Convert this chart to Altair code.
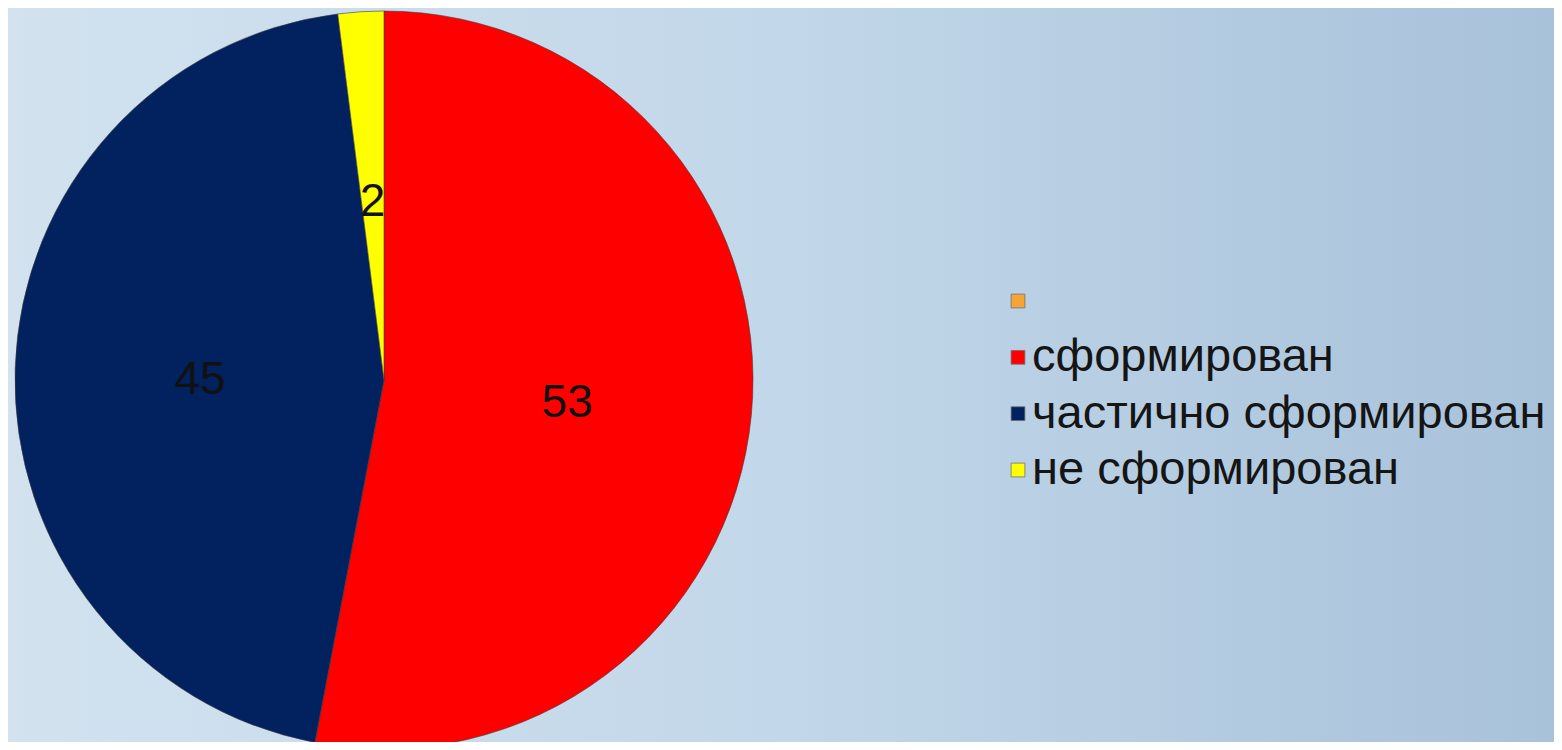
import altair as alt
import pandas as pd

categories = ["", "сформирован", "частично сформирован", "не сформирован"]
values = [0, 53, 45, 2]
colors = ["#f4a536", "#ff0000", "#02215f", "#ffff00"]

df = pd.DataFrame({
    "category": categories,
    "value": values,
    "order": list(range(len(categories))),
})

W, H = 1546, 734
CX, CY, R = 376, 372, 369
LEG_TOP, LEG_BOTTOM = 293, 462
LEG_SYM_X, LEG_TEXT_X = 1010, 1024

color_scale = alt.Scale(domain=categories, range=colors)

bg = alt.Chart(pd.DataFrame({"a": [0]})).mark_rect(
    color=alt.LinearGradient(
        gradient="linear",
        stops=[
            alt.GradientStop(color="#d2e2ef", offset=0),
            alt.GradientStop(color="#c2d7e9", offset=0.5),
            alt.GradientStop(color="#a8c2da", offset=1),
        ],
        x1=0, x2=1, y1=0, y2=0,
    )
).encode(x=alt.value(0), x2=alt.value(W), y=alt.value(0), y2=alt.value(H))

base = alt.Chart(df).encode(
    theta=alt.Theta("value:Q", stack=True),
    order=alt.Order("order:Q"),
)

arcs = base.mark_arc(outerRadius=R, stroke="#3a3a3a", strokeWidth=0.6).encode(
    x=alt.value(CX),
    y=alt.value(CY),
    color=alt.Color("category:N", scale=color_scale, legend=None),
)

labels = base.mark_text(
    radius=184, font="Liberation Sans", fontSize=46, color="#111111",
    align="center", baseline="middle", dy=6,
).encode(
    x=alt.value(CX),
    y=alt.value(CY),
    text=alt.condition("datum.value > 0", alt.Text("value:Q"), alt.value("")),
)

leg_y = alt.Y(
    "category:N",
    sort=categories,
    scale=alt.Scale(type="point", domain=categories, range=[LEG_TOP, LEG_BOTTOM], padding=0),
    axis=None,
)

leg_sym = alt.Chart(df).mark_square(
    size=190, opacity=1, stroke="#707070", strokeWidth=0.8
).encode(
    x=alt.value(LEG_SYM_X),
    y=leg_y,
    color=alt.Color("category:N", scale=color_scale, legend=None),
)

leg_txt = alt.Chart(df).mark_text(
    align="left", baseline="middle", font="Liberation Sans", fontSize=47,
    color="#151515",
).encode(
    x=alt.value(LEG_TEXT_X),
    y=leg_y,
    text="category:N",
)

chart = alt.layer(bg, arcs, labels, leg_sym, leg_txt).properties(
    width=W, height=H,
    autosize=alt.AutoSizeParams(type="none"),
    padding=0,
).configure_view(stroke=None).configure(background="#c6d9ea")

chart.save("out.html", embed_options={"renderer": "svg", "actions": False})
